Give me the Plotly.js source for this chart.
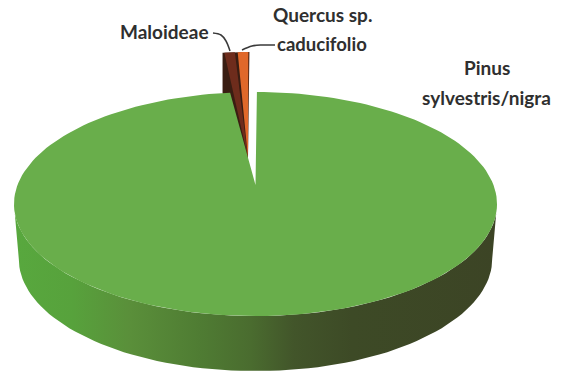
<!DOCTYPE html>
<html>
<head>
<meta charset="utf-8">
<script src="https://cdn.plot.ly/plotly-3.0.1.min.js"></script>
<style>html,body{margin:0;padding:0;background:#fff}#chart{width:561px;height:372px}</style>
</head>
<body>
<div id="chart"></div>
<script>
// Share of each taxon, in percent
const categories = ['Pinus sylvestris/nigra', 'Maloideae', 'Quercus sp. caducifolio'];
const values = [97.9, 1.1, 1.0];
const topColors = ['#69ae4b', '#6e2c1c', '#e0682a'];

// Tilted-disc projection, in screen pixels
const cx = 255.5, cy = 185, a = 238, b = 108.8, k = 0.17;
const wallDrop = 55, wallScale = 0.98;
const rad = d => d * Math.PI / 180;

// Point on the disc at clockwise angle deg (0 = far side), radius r
function project(deg, r) {
  const u = r * Math.sin(rad(deg)), v = r * Math.cos(rad(deg));
  const w = 1 + k * v;
  return [cx + a * u / w, cy - b * v / w];
}
function arc(from, to, r, map) {
  const pts = [], n = Math.max(2, Math.ceil(Math.abs(to - from) / 2));
  for (let i = 0; i <= n; i++) pts.push(map(project(from + (to - from) * i / n, r)));
  return pts;
}
const same = p => p;
function poly(name, pts, fill) {
  return {type: 'scatter', mode: 'lines', name, x: pts.map(p => p[0]), y: pts.map(p => p[1]),
    fill: 'toself', fillcolor: fill, line: {width: 0}, hoverinfo: 'name'};
}

// Angular extents from the values, running clockwise from the start angle
const startDeg = 0.4;
const spans = [];
let run = startDeg;
values.forEach(v => { const d = v * 3.6; spans.push([run, run + d]); run += d; });

// The two small slices are pulled away behind the disc
const pullScale = 0.88, pullR = 1.167, tipX = 248, tipY = 158, pullDrop = 40;
function pulled(p) {
  return [tipX + (p[0] - cx) * pullScale, p[1] + (tipY - cy)];
}
function sliceTop(span, inset) {
  const edge = arc(span[0] + inset, span[1] - inset, pullR, pulled);
  return [[tipX, tipY]].concat(edge, [[tipX, tipY]]);
}
const edgeL = pulled(project(spans[1][0], pullR));
const edgeR = pulled(project(spans[2][1], pullR));
const sideBand = [edgeL, edgeR, [tipX, tipY], [tipX, tipY + pullDrop], [edgeL[0], edgeL[1] + pullDrop], edgeL];

// Front wall of the disc, between the two widest points of the outline
const widest = Math.acos(-k) * 180 / Math.PI;
const lower = p => [cx + (p[0] - cx) * wallScale, p[1] + wallDrop];
const wallTop = arc(widest, 360 - widest, 1, same);
const wallBot = arc(360 - widest, widest, 1, lower);
const wallPts = wallTop.concat(wallBot, [wallTop[0]]);

// Main slice, from the centre round to the far side
const mainPts = [[cx, cy]].concat(arc(spans[0][0], spans[0][1], 1, same), [[cx, cy]]);

// Leader lines from the labels to the small slices
const leaderMaloideae = [[213, 33], [221, 35], [226, 41], [230, 51]];
const leaderQuercus = [[242, 50], [252, 46], [262, 45], [275, 45]];

const traces = [
  poly('Maloideae side', sideBand, '#3a1d12'),
  poly(categories[1], sliceTop(spans[1], 0.5), topColors[1]),
  poly(categories[2], sliceTop(spans[2], 0.3), topColors[2]),
  Object.assign(poly('Wall', wallPts, '#4a7030'), {
    fillgradient: {type: 'horizontal', colorscale: [
      [0, '#58a83e'], [0.12, '#57a23c'], [0.24, '#5a8f3a'], [0.385, '#4f7c33'],
      [0.49, '#4a6c2f'], [0.58, '#42552a'], [0.7, '#3d4a26'], [1, '#3c4425']]}
  }),
  poly(categories[0], mainPts, topColors[0]),
  {type: 'scatter', mode: 'lines', x: leaderMaloideae.map(p => p[0]), y: leaderMaloideae.map(p => p[1]),
    line: {color: '#3a3a3a', width: 1.5, shape: 'spline'}, hoverinfo: 'skip'},
  {type: 'scatter', mode: 'lines', x: leaderQuercus.map(p => p[0]), y: leaderQuercus.map(p => p[1]),
    line: {color: '#3a3a3a', width: 1.5, shape: 'spline'}, hoverinfo: 'skip'}
];

const labelFont = size => ({family: 'Lato, "Open Sans", sans-serif', size, color: '#2f2f2f', weight: 700});
const note = (text, x, y, size) => ({text, x, y, xref: 'x', yref: 'y', showarrow: false, font: labelFont(size),
  xanchor: 'center', yanchor: 'middle', align: 'center'});

const layout = {
  width: 561, height: 372, showlegend: false,
  margin: {l: 0, r: 0, t: 0, b: 0},
  paper_bgcolor: '#ffffff', plot_bgcolor: '#ffffff',
  xaxis: {range: [0, 561], visible: false, fixedrange: true},
  yaxis: {range: [372, 0], visible: false, fixedrange: true},
  annotations: [
    note('Maloideae', 164, 31, 19),
    note('Quercus sp.', 322, 14, 19),
    note('caducifolio', 322, 44, 18.5),
    note('Pinus', 487, 67, 19),
    note('sylvestris/nigra', 486, 97, 19)
  ]
};
Plotly.newPlot('chart', traces, layout, {displayModeBar: false, staticPlot: true});
</script>
</body>
</html>
